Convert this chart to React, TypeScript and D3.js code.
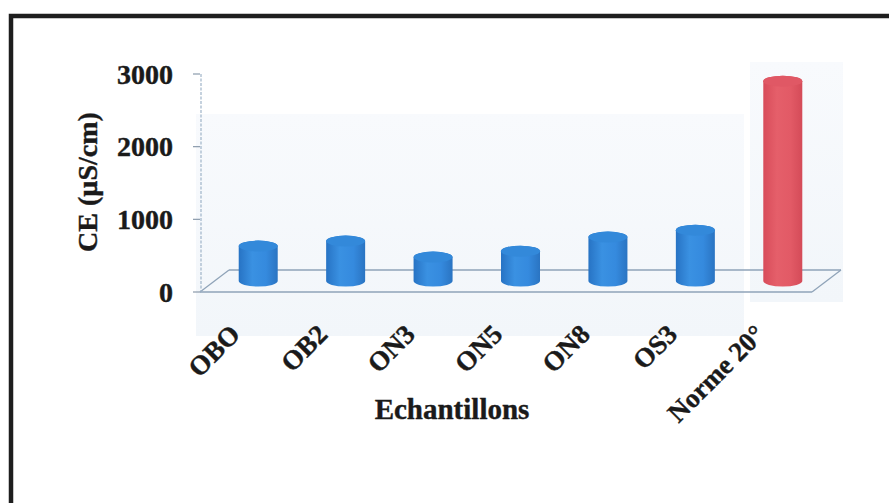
import React from "react";
import * as d3 from "d3";

const categories: string[] = ["OBO", "OB2", "ON3", "ON5", "ON8", "OS3", "Norme 20°"];
const values: number[] = [480, 550, 330, 410, 605, 700, 2750];
const isNorm: boolean[] = [false, false, false, false, false, false, true];
const yTicks: number[] = [0, 1000, 2000, 3000];
const yTitle = "CE (µS/cm)";
const xTitle = "Echantillons";

const W = 889;
const H = 503;
const FONT = "'Liberation Serif', 'Times New Roman', serif";

export default function App() {
  const x = d3.scaleBand<string>().domain(categories).range([200, 812]).padding(0);
  const y = d3.scaleLinear().domain([0, 3000]).range([292, 74]);
  const depthX = 29;
  const depthY = -22;
  const midX = depthX / 2;
  const midY = depthY / 2;
  const rx = 19.5;
  const ry = 5.5;

  const bodyPath = (cx: number, yt: number, yb: number) =>
    `M${cx - rx},${yt} L${cx - rx},${yb} A${rx},${ry} 0 0 0 ${cx + rx},${yb} L${cx + rx},${yt} A${rx},${ry} 0 0 0 ${cx - rx},${yt} Z`;

  const x0 = x.range()[0];
  const x1 = x.range()[1];
  const y0 = y(0);

  return (
    <svg
      width={W}
      height={H}
      style={{ position: "absolute", left: 0, top: 0, display: "block", background: "#ffffff" }}
    >
      <defs>
        <linearGradient id="blueG" x1="0" x2="1" y1="0" y2="0">
          <stop offset="0%" stopColor="#2773c4" />
          <stop offset="35%" stopColor="#3a91e2" />
          <stop offset="70%" stopColor="#358ade" />
          <stop offset="100%" stopColor="#2a74c2" />
        </linearGradient>
        <linearGradient id="redG" x1="0" x2="1" y1="0" y2="0">
          <stop offset="0%" stopColor="#d84c5a" />
          <stop offset="35%" stopColor="#e55f6a" />
          <stop offset="70%" stopColor="#e25a66" />
          <stop offset="100%" stopColor="#d44b58" />
        </linearGradient>
        <linearGradient id="bgG" x1="0" x2="0" y1="0" y2="1">
          <stop offset="0%" stopColor="#f8fafd" />
          <stop offset="100%" stopColor="#f2f6fa" />
        </linearGradient>
      </defs>

      {/* faint scanned background panels */}
      <rect x={196} y={114} width={548} height={222} fill="url(#bgG)" />
      <rect x={750} y={62} width={93} height={240} fill="url(#bgG)" />

      {/* outer frame */}
      <path d={`M11,${H + 10} L11,16 L${W + 10},16`} fill="none" stroke="#1e1e1e" strokeWidth={4.5} />

      {/* floor */}
      <g stroke="#8fa3b8" strokeWidth={1.3} fill="none">
        <line x1={x0} y1={y0} x2={x1} y2={y0} />
        <line x1={x0 + depthX} y1={y0 + depthY} x2={x1 + depthX} y2={y0 + depthY} />
        <line x1={x0} y1={y0} x2={x0 + depthX} y2={y0 + depthY} />
        <line x1={x1} y1={y0} x2={x1 + depthX} y2={y0 + depthY} />
      </g>

      {/* y axis */}
      <line x1={x0 + 1} y1={y(3000)} x2={x0 + 1} y2={y0} stroke="#9fb4c8" strokeWidth={1.2} strokeDasharray="3,1.5" />
      {yTicks.map((t) => (
        <g key={t}>
          <line x1={x0 - 7} x2={x0} y1={y(t)} y2={y(t)} stroke="#8a9aab" strokeWidth={1.2} />
          <text
            x={173}
            y={y(t)}
            dy="0.35em"
            textAnchor="end"
            fontFamily={FONT}
            fontWeight="bold"
            fontSize={28}
            fill="#1a1a1a"
            stroke="#1a1a1a"
            strokeWidth={0.4}
          >
            {t}
          </text>
        </g>
      ))}

      {/* cylinders */}
      {categories.map((c, i) => {
        const cx = (x(c) as number) + x.bandwidth() / 2 + midX;
        const yt = y(values[i]) + midY;
        const yb = y(0) + midY;
        const fill = isNorm[i] ? "url(#redG)" : "url(#blueG)";
        const topFill = isNorm[i] ? "#e05865" : "#3389da";
        return (
          <g key={c}>
            <path d={bodyPath(cx, yt, yb)} fill={fill} />
            <ellipse cx={cx} cy={yt} rx={rx} ry={ry} fill={topFill} />
          </g>
        );
      })}

      {/* category labels */}
      {categories.map((c) => {
        const px = (x(c) as number) + x.bandwidth() / 2 - 2;
        const py = 336;
        return (
          <text
            key={c}
            transform={`translate(${px},${py}) rotate(-45)`}
            textAnchor="end"
            fontFamily={FONT}
            fontWeight="bold"
            fontSize={27}
            fill="#1a1a1a"
            stroke="#1a1a1a"
            strokeWidth={0.4}
          >
            {c}
          </text>
        );
      })}

      {/* axis titles */}
      <text
        transform={`translate(97,182) rotate(-90)`}
        textAnchor="middle"
        fontFamily={FONT}
        fontWeight="bold"
        fontSize={28}
        fill="#1a1a1a"
        stroke="#1a1a1a"
        strokeWidth={0.4}
      >
        {yTitle}
      </text>
      <text
        x={452}
        y={419}
        textAnchor="middle"
        fontFamily={FONT}
        fontWeight="bold"
        fontSize={29}
        fill="#1a1a1a"
        stroke="#1a1a1a"
        strokeWidth={0.4}
      >
        {xTitle}
      </text>
    </svg>
  );
}
